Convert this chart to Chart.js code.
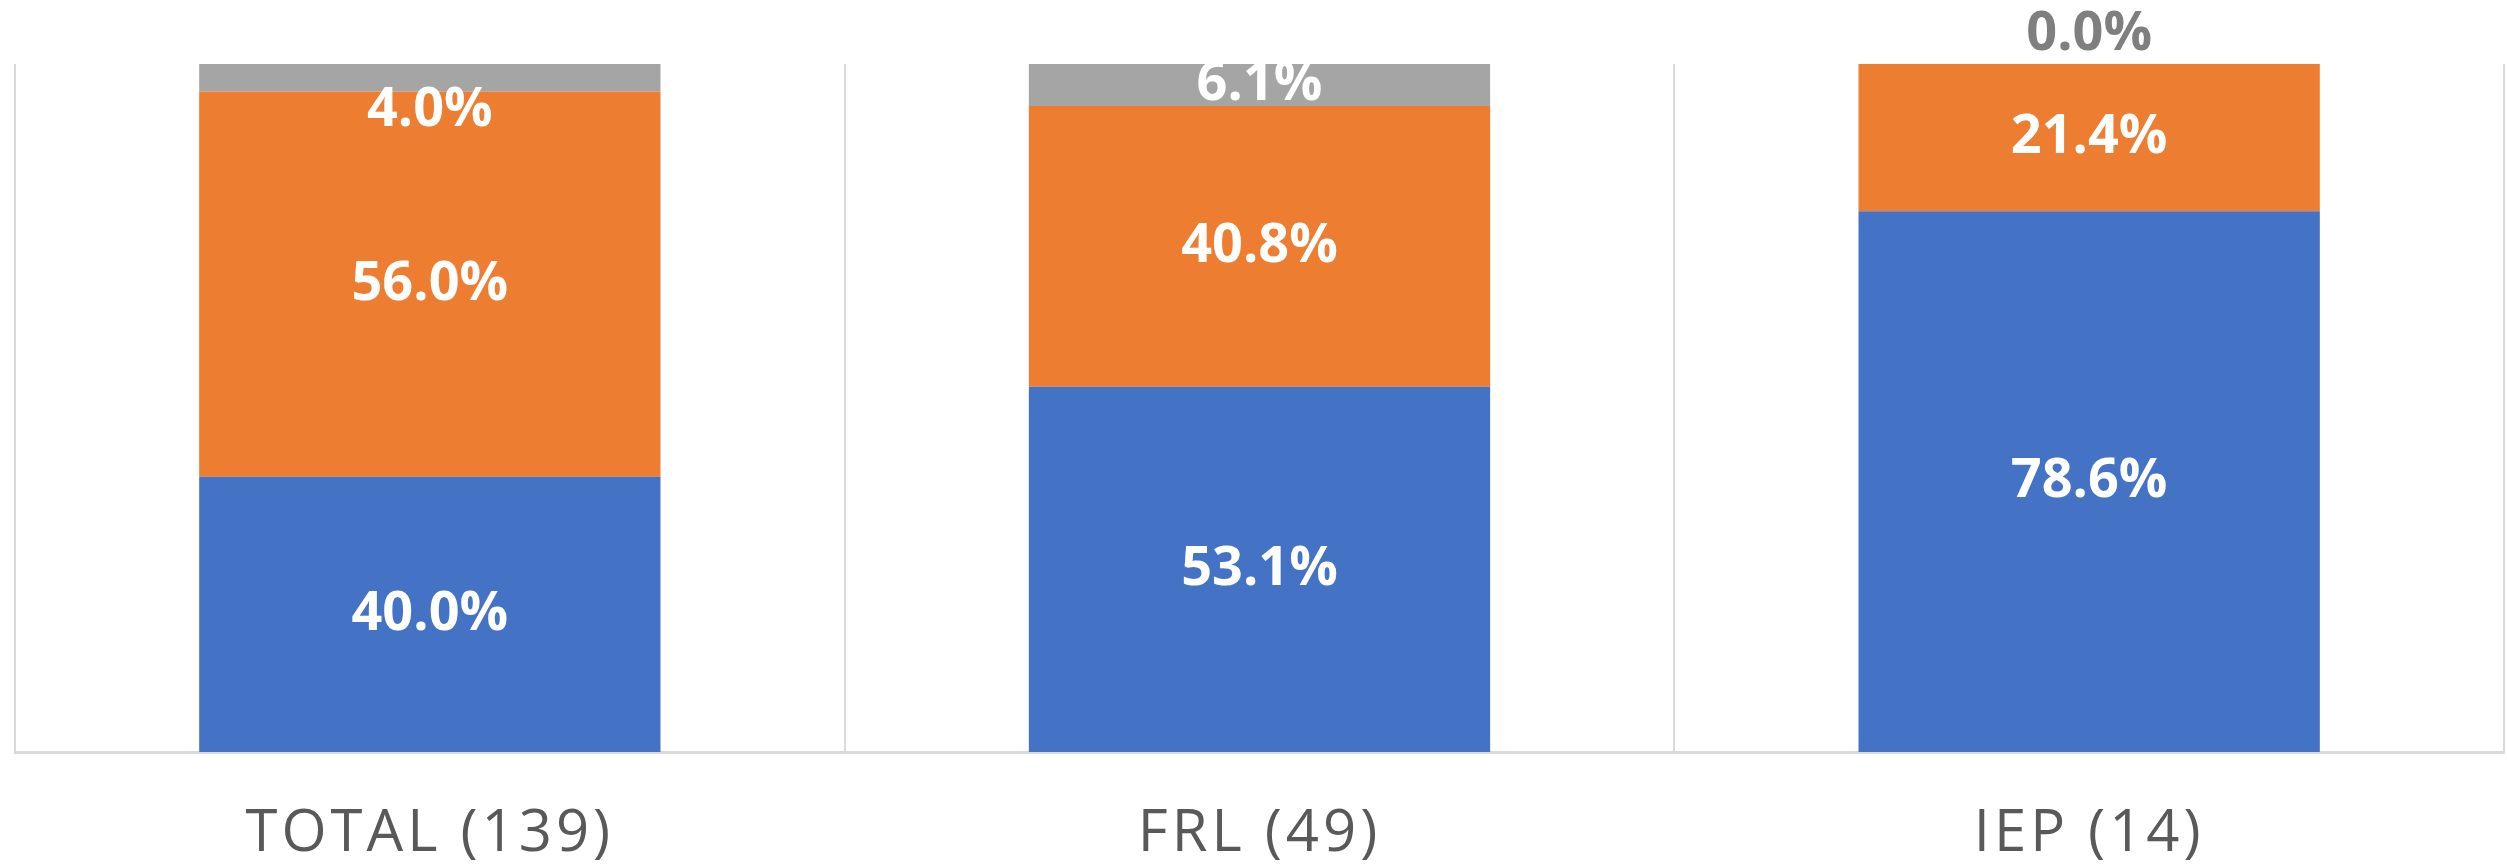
<!DOCTYPE html>
<html>
<head>
<meta charset="utf-8">
<script src="https://cdn.jsdelivr.net/npm/chart.js@4/dist/chart.umd.min.js"></script>
<style>
  html, body { margin: 0; padding: 0; background: #fff; }
  #wrap { width: 2507px; height: 866px; }
</style>
</head>
<body>
<div id="wrap"><canvas id="chart" width="2507" height="866"></canvas></div>
<script>
const categories = ['TOTAL (139)', 'FRL (49)', 'IEP (14)'];
const blueValues = [40.0, 53.1, 78.6];
const orangeValues = [56.0, 40.8, 21.4];
const grayValues = [4.0, 6.1, 0.0];
const yTicks = [0, 100];

// wider letter spacing for the category labels
const spacing = {
  id: 'spacing',
  beforeDraw(chart) {
    chart.ctx.letterSpacing = '4px';
  }
};

// draws the percentage labels on each segment
const segmentLabels = {
  id: 'segmentLabels',
  afterDatasetsDraw(chart) {
    const ctx = chart.ctx;
    ctx.save();
    ctx.letterSpacing = '0px';
    ctx.font = 'bold 54px "Open Sans"';
    ctx.textAlign = 'center';
    ctx.textBaseline = 'middle';
    chart.data.datasets.forEach((ds, i) => {
      const meta = chart.getDatasetMeta(i);
      meta.data.forEach((bar, j) => {
        const v = ds.data[j];
        const txt = v.toFixed(1) + '%';
        const top = Math.min(bar.y, bar.base);
        const bottom = Math.max(bar.y, bar.base);
        const h = bottom - top;
        let y = top + h / 2;
        ctx.fillStyle = '#ffffff';
        if (v === 0) {
          y = top - 29;
          ctx.fillStyle = '#7f7f7f';
        } else if (h < 30) {
          y = bottom + 19;
        }
        ctx.fillText(txt, bar.x, y);
      });
    });
    ctx.restore();
  }
};

new Chart(document.getElementById('chart'), {
  type: 'bar',
  data: {
    labels: categories,
    datasets: [
      { label: 'Blue', data: blueValues, backgroundColor: '#4472C4' },
      { label: 'Orange', data: orangeValues, backgroundColor: '#ED7D31' },
      { label: 'Gray', data: grayValues, backgroundColor: '#A5A5A5' }
    ]
  },
  options: {
    responsive: false,
    animation: false,
    layout: { padding: { left: 15, right: 3, top: 64, bottom: 0 } },
    datasets: { bar: { categoryPercentage: 1, barPercentage: 0.556 } },
    plugins: { legend: { display: false }, tooltip: { enabled: false } },
    scales: {
      x: {
        stacked: true,
        grid: { color: '#D9D9D9', lineWidth: 2, drawTicks: false, offset: true },
        border: { color: '#D9D9D9', width: 3 },
        ticks: { color: '#595959', padding: 48, font: { family: '"Open Sans"', size: 58 } },
        afterFit(scale) { scale.height = 114; }
      },
      y: {
        stacked: true,
        display: false,
        min: yTicks[0],
        max: yTicks[1]
      }
    }
  },
  plugins: [spacing, segmentLabels]
});
</script>
</body>
</html>
